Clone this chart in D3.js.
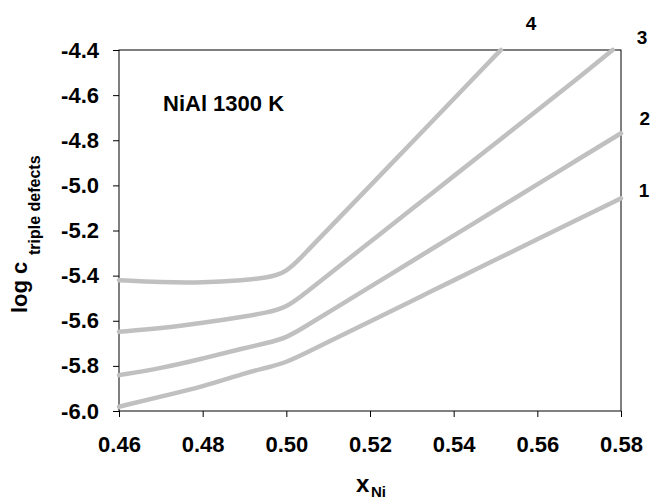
<!DOCTYPE html>
<html>

<head>
    <meta charset='utf-8'>
    <title>NiAl triple defects</title>
    <script type='text/javascript' src='https://cdn.jsdelivr.net/npm/d3@7/dist/d3.min.js'></script>
    <style>
        html, body { margin: 0; padding: 0; background: #fff; overflow: hidden; }
        svg { display: block; }
    </style>
</head>

<body>
    <svg width='654' height='504'></svg>
    <script type='text/javascript'>

        // tick values
        const xTicks = [0.46, 0.48, 0.50, 0.52, 0.54, 0.56, 0.58]
        const yTicks = [-6.0, -5.8, -5.6, -5.4, -5.2, -5.0, -4.8, -4.6, -4.4]

        // curves (curve 1 = lowest)
        const x1 = [0.46, 0.47, 0.48, 0.49, 0.495, 0.50, 0.505, 0.51, 0.52, 0.53, 0.54, 0.55, 0.56, 0.57, 0.58]
        const y1 = [-5.981, -5.936, -5.893, -5.832, -5.810, -5.785, -5.740, -5.694, -5.603, -5.512, -5.421, -5.330, -5.239, -5.148, -5.057]
        const x2 = [0.46, 0.47, 0.48, 0.49, 0.495, 0.50, 0.505, 0.51, 0.52, 0.53, 0.54, 0.55, 0.56, 0.57, 0.58]
        const y2 = [-5.841, -5.811, -5.768, -5.721, -5.700, -5.677, -5.620, -5.563, -5.450, -5.336, -5.223, -5.109, -4.996, -4.882, -4.769]
        const x3 = [0.46, 0.47, 0.48, 0.49, 0.495, 0.50, 0.505, 0.51, 0.52, 0.53, 0.54, 0.55, 0.56, 0.57, 0.578]
        const y3 = [-5.649, -5.634, -5.610, -5.581, -5.565, -5.543, -5.470, -5.397, -5.251, -5.105, -4.959, -4.813, -4.667, -4.521, -4.400]
        const x4 = [0.46, 0.47, 0.48, 0.49, 0.495, 0.50, 0.505, 0.51, 0.52, 0.53, 0.54, 0.55, 0.5513]
        const y4 = [-5.420, -5.430, -5.432, -5.420, -5.410, -5.390, -5.290, -5.195, -5.002, -4.810, -4.617, -4.424, -4.400]

        const curveNames = ['1', '2', '3', '4']
        const labelX = [0.5855, 0.5857, 0.5850, 0.5585]
        const labelY = [-5.02, -4.70, -4.342, -4.28]

        const svg = d3.select('svg')
        const margin = { top: 50, left: 119, bottom: 93, right: 33 }
        const innerWidth = parseInt(svg.attr('width')) - margin.left - margin.right
        const innerHeight = parseInt(svg.attr('height')) - margin.top - margin.bottom
        const font = 'Liberation Sans, Arial, sans-serif'

        const x = d3.scaleLinear().domain([0.46, 0.58]).range([0, innerWidth])
        const y = d3.scaleLinear().domain([-6.0, -4.4]).range([innerHeight, 0])

        const g = svg.append('g').attr('transform', `translate(${margin.left},${margin.top})`)

        const xAxis = d3.axisBottom(x).tickValues(xTicks).tickFormat(d => d.toFixed(2))
            .tickSizeInner(6).tickSizeOuter(0).tickPadding(19)
        const yAxis = d3.axisLeft(y).tickValues(yTicks).tickFormat(d => d.toFixed(1))
            .tickSizeInner(6).tickSizeOuter(0).tickPadding(14)

        const gx = g.append('g').attr('transform', `translate(0,${innerHeight})`).call(xAxis)
        const gy = g.append('g').call(yAxis)

        for (const a of [gx, gy]) {
            a.attr('font-size', 22).attr('font-family', font).attr('font-weight', 'bold')
            a.select('.domain').remove()
            a.selectAll('line').attr('stroke', '#000').attr('stroke-width', 1)
            a.selectAll('text').attr('dy', null).attr('fill', '#000')
        }
        gx.selectAll('text').attr('y', 41)
        gy.selectAll('text').attr('y', 7)

        // frame
        g.append('rect')
            .attr('x', 0).attr('y', 0)
            .attr('width', innerWidth).attr('height', innerHeight)
            .attr('fill', 'none').attr('stroke', '#000').attr('stroke-width', 1)

        const series = [[x1, y1], [x2, y2], [x3, y3], [x4, y4]]
            .map(([xs, ys]) => xs.map((v, i) => [v, ys[i]]))

        const line = d3.line()
            .x(d => x(d[0]))
            .y(d => y(d[1]))
            .curve(d3.curveBasis)

        g.selectAll('path.curve')
            .data(series)
            .enter()
            .append('path')
            .attr('class', 'curve')
            .attr('d', line)
            .attr('fill', 'none')
            .attr('stroke', '#c0c0c0')
            .attr('stroke-width', 4.5)
            .attr('stroke-linecap', 'round')

        const labels = svg.append('g')
            .attr('font-family', font)
            .attr('font-weight', 'bold')
            .attr('fill', '#000')

        labels.selectAll('text.cname')
            .data(curveNames)
            .enter()
            .append('text')
            .attr('class', 'cname')
            .attr('x', (d, i) => margin.left + x(labelX[i]))
            .attr('y', (d, i) => margin.top + y(labelY[i]) + 7)
            .attr('text-anchor', 'middle')
            .attr('font-size', 19)
            .text(d => d)

        labels.append('text')
            .attr('x', margin.left + 44)
            .attr('y', margin.top + 61)
            .attr('font-size', 22)
            .text('NiAl 1300 K')

        // x title
        labels.append('text').attr('x', 356).attr('y', 492).attr('font-size', 24).text('x')
        labels.append('text').attr('x', 371).attr('y', 497).attr('font-size', 15).text('Ni')

        // y title
        labels.append('text')
            .attr('transform', 'translate(27,313) rotate(-90)')
            .attr('font-size', 22)
            .text('log c')
        labels.append('text')
            .attr('transform', 'translate(40,255) rotate(-90)')
            .attr('font-size', 16)
            .text('triple defects')
    </script>
</body>

</html>
